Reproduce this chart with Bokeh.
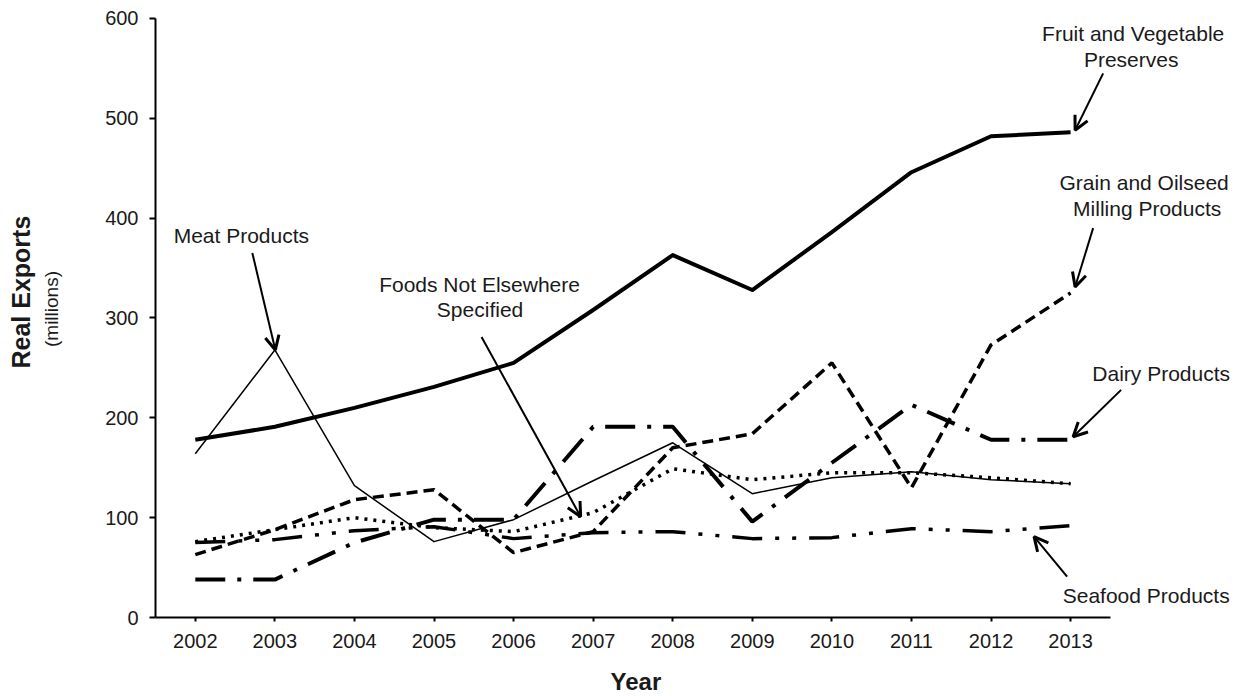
import math
from bokeh.plotting import figure
from bokeh.models import Range1d, FixedTicker, Label, Arrow, OpenHead, ColumnDataSource, Title
from bokeh.embed import file_html
from bokeh.resources import INLINE

# ---------------- data ----------------
years = [2002, 2003, 2004, 2005, 2006, 2007, 2008, 2009, 2010, 2011, 2012, 2013]
fruit_veg = [178, 191, 210, 231, 255, 308, 363, 328, 386, 446, 482, 486]
meat = [164, 268, 132, 76, 98, 137, 175, 124, 140, 146, 138, 134]
foods_nes = [76, 88, 100, 90, 86, 105, 149, 138, 145, 145, 140, 134]
grain = [63, 88, 118, 128, 65, 86, 170, 184, 255, 130, 273, 325]
dairy = [38, 38, 75, 98, 98, 191, 191, 96, 155, 213, 178, 178]
seafood = [75, 78, 87, 91, 79, 85, 86, 79, 80, 89, 86, 92]
y_ticks = [0, 100, 200, 300, 400, 500, 600]

FONT = "Liberation Sans"
TXT = "#1a1a1a"

# frame: x from 155px to the right edge, y from top edge to 618px (1 px per unit)
X0, X1 = 2001.5, 2013.5
PX_PER_YEAR = 79.5
x_end = X1 + (1235 - 1110) / PX_PER_YEAR

p = figure(width=1235, height=696, output_backend="svg", toolbar_location=None,
           x_range=Range1d(X0, x_end), y_range=Range1d(0, 618),
           min_border_left=155, min_border_right=0, min_border_top=0,
           min_border_bottom=78)
p.xgrid.visible = False
p.ygrid.visible = False
p.outline_line_color = None
p.background_fill_color = "white"
p.border_fill_color = "white"

for ax in (p.xaxis[0], p.yaxis[0]):
    ax.axis_line_width = 2
    ax.axis_line_color = "black"
    ax.major_tick_line_width = 2
    ax.major_tick_line_color = "black"
    ax.major_tick_in = 0
    ax.minor_tick_line_color = None
    ax.major_label_text_font = FONT
    ax.major_label_text_font_size = "20px"
    ax.major_label_text_color = TXT
p.xaxis[0].ticker = FixedTicker(ticks=years)
p.xaxis[0].bounds = (X0, X1)
p.xaxis[0].major_tick_out = 4
p.xaxis[0].major_label_standoff = 12
# blank spacer label so that the "Year" title sits lower
p.xaxis[0].axis_label = " "
p.xaxis[0].axis_label_text_font_size = "1px"
p.xaxis[0].axis_label_standoff = 9
p.yaxis[0].ticker = FixedTicker(ticks=y_ticks)
p.yaxis[0].bounds = (0, 600)
p.yaxis[0].major_tick_out = 6
p.yaxis[0].major_label_standoff = 11
p.yaxis[0].axis_label = "(millions)"
p.yaxis[0].axis_label_text_font = FONT
p.yaxis[0].axis_label_text_font_size = "19px"
p.yaxis[0].axis_label_text_font_style = "normal"
p.yaxis[0].axis_label_text_color = TXT
p.yaxis[0].axis_label_standoff = 40

p.add_layout(Title(text="Real Exports", align="left", offset=249, vertical_align="middle",
                   standoff=6, text_font=FONT, text_font_size="25px",
                   text_font_style="bold", text_color=TXT), "left")
p.add_layout(Title(text="Year", align="left", offset=455, vertical_align="bottom",
                   standoff=4, text_font=FONT, text_font_size="24px",
                   text_font_style="bold", text_color=TXT), "below")

src = ColumnDataSource(dict(x=years, fruit=fruit_veg, meat=meat, foods=foods_nes,
                            grain=grain, dairy=dairy, seafood=seafood))

p.line("x", "meat", source=src, line_color="black", line_width=1.5, line_join="round")
p.line("x", "foods", source=src, line_color="black", line_width=3.5, line_dash="3 6")
p.line("x", "grain", source=src, line_color="black", line_width=3.5, line_dash="11 6")
p.line("x", "dairy", source=src, line_color="black", line_width=4, line_dash="30 12 4 12")
p.line("x", "seafood", source=src, line_color="black", line_width=3.5,
       line_dash="30 13 4 13 4 13")
p.line("x", "fruit", source=src, line_color="black", line_width=4, line_join="round")


def px2x(px):
    return 2002 + (px - 195) / PX_PER_YEAR


def py2y(py):
    return 618 - py


labels = [
    ("Meat Products", 241, 235.5),
    ("Foods Not Elsewhere", 479, 284.5),
    ("Specified", 479.5, 309.5),
    ("Fruit and Vegetable", 1132, 33),
    ("Preserves", 1130, 59.5),
    ("Grain and Oilseed", 1143, 182.5),
    ("Milling Products", 1146, 208),
    ("Dairy Products", 1160, 374),
    ("Seafood Products", 1145, 596),
]
for t, lx, ly in labels:
    p.add_layout(Label(x=px2x(lx), y=py2y(ly), text=t, text_font=FONT,
                       text_font_size="21px", text_align="center",
                       text_baseline="middle", text_color=TXT))

arrows = [
    (252, 253, 275, 350),
    (481, 337, 580, 517),
    (1102, 73, 1074, 130),
    (1092, 228, 1074, 287),
    (1120, 390, 1072, 437),
    (1066, 577, 1033, 537),
]
for x0, y0, x1, y1 in arrows:
    p.add_layout(Arrow(end=OpenHead(size=14, line_width=3, line_color="black"),
                       x_start=px2x(x0), y_start=py2y(y0),
                       x_end=px2x(x1), y_end=py2y(y1),
                       line_width=2, line_color="black"))

open("out.html", "w").write(file_html(p, INLINE))
